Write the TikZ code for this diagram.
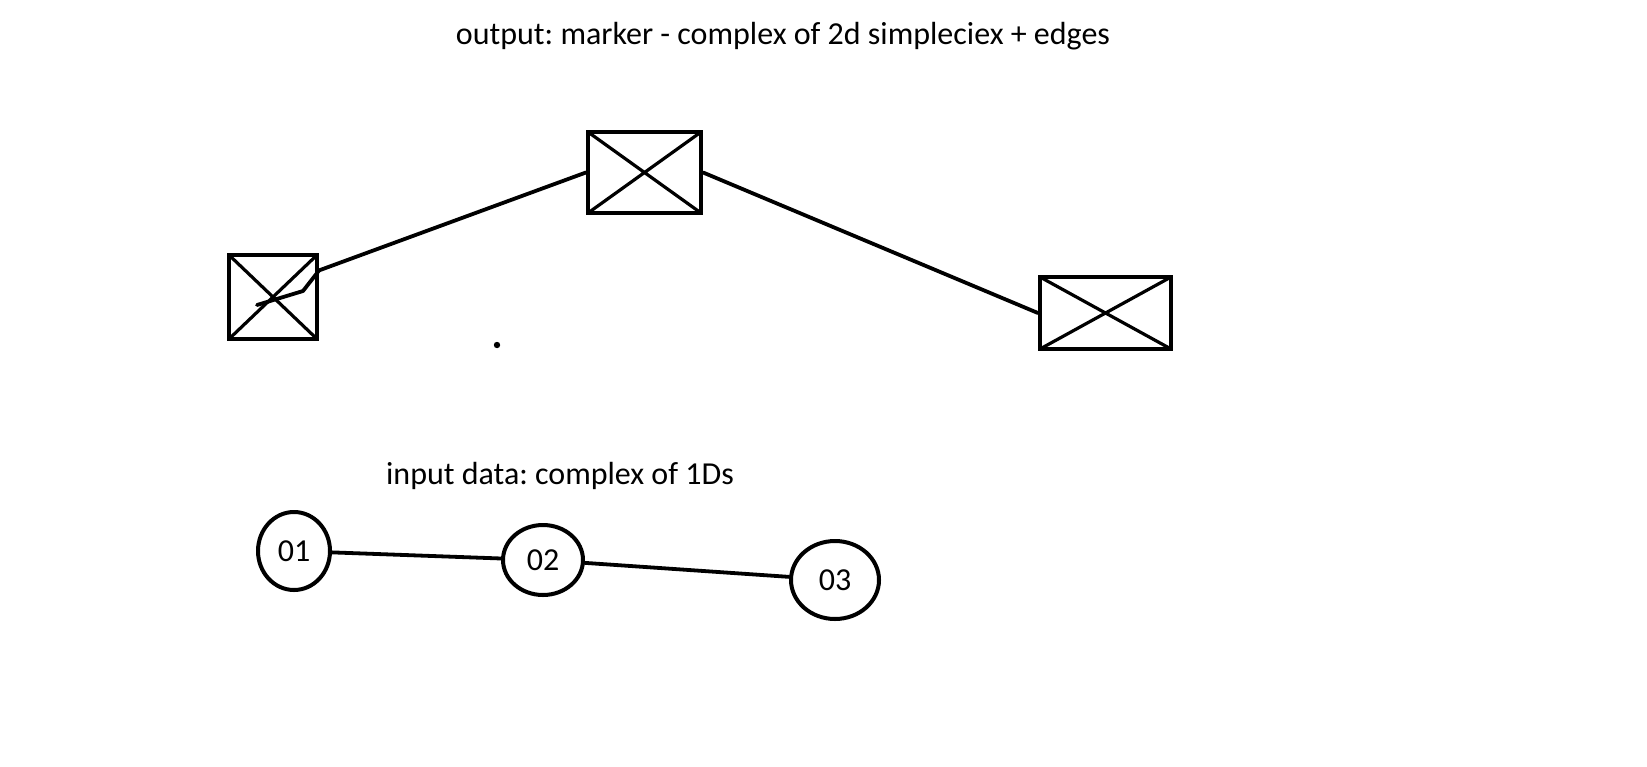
\documentclass[tikz,border=0pt]{standalone}
\usepackage{fontspec}
\setmainfont{Carlito}
\usetikzlibrary{shapes.geometric, calc}
\frenchspacing

\begin{document}
\begin{tikzpicture}[
    x=0.5pt, y=-0.5pt,
    % --- node styles ---
    simplex/.style={
        rectangle, draw=black, line width=2.1pt, inner sep=0pt,
        path picture={
            \draw[line width=1.6pt]
                (path picture bounding box.north west) -- (path picture bounding box.south east)
                (path picture bounding box.north east) -- (path picture bounding box.south west);
        }
    },
    vertex/.style={
        ellipse, draw=black, line width=2pt, inner sep=0pt,
        font=\fontsize{16}{19}\selectfont
    },
    caption/.style={font=\fontsize{16}{19}\selectfont, inner sep=0pt},
    edge/.style={line width=1.9pt, line cap=round, line join=round},
]
\useasboundingbox[fill=white] (0,0) rectangle (1647,766);

% ===== OUTPUT =====
\node[caption] (outtitle) at (783,36) {output: marker - complex of 2d simpleciex + edges};

\node[simplex, minimum width=44pt, minimum height=42pt] (sa) at (273,297) {};
\node[simplex, minimum width=56.5pt, minimum height=40.5pt] (sb) at (644.5,172.5) {};
\node[simplex, minimum width=65.5pt, minimum height=36pt] (sc) at (1105.5,313) {};

\draw[edge] ($(sa.center)+(-16,8)$) -- ($(sa.center)+(30,-6)$) -- (sa.30) -- (sb.west);
\draw[edge] (sb.east) -- (sc.west);

\fill (497,345) circle[radius=1.6pt];

% ===== INPUT =====
\node[caption] (intitle) at (560,476) {input data: complex of 1Ds};

\node[vertex, minimum width=36pt, minimum height=39pt] (v1) at (294,551) {01};
\node[vertex, minimum width=40pt, minimum height=35pt] (v2) at (543,560) {02};
\node[vertex, minimum width=44pt, minimum height=39pt] (v3) at (835,580) {03};

\draw[edge] (v1) -- (v2);
\draw[edge] (v2) -- (v3);

\end{tikzpicture}
\end{document}
